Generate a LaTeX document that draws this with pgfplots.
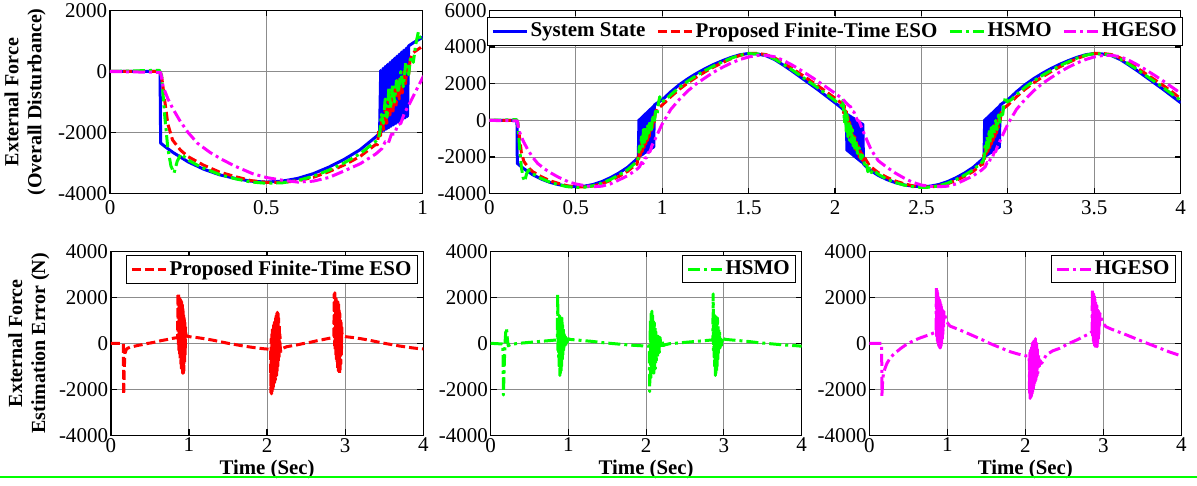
\documentclass[border=0pt]{standalone}
\usepackage{fontspec}
\setmainfont{Liberation Serif}
\usepackage{pgfplots}
\usepackage{pgfplotstable}
\pgfplotsset{compat=1.18}

\definecolor{cBlue}{RGB}{0,0,255}
\definecolor{cRed}{RGB}{255,0,0}
\definecolor{cGreen}{RGB}{0,255,0}
\definecolor{cMag}{RGB}{255,0,255}

\newcommand\tickfont{\fontsize{10.5}{12}\selectfont}
\newcommand\labfont{\bfseries\fontsize{10}{11.5}\selectfont}
\newcommand\legfont{\bfseries\fontsize{10.5}{12}\selectfont}

% ---------------- overall disturbance (system state) ----------------
\pgfplotstableread[row sep=\\]{
t v\\
0 0\\ 0.16 0\\ 0.162 -2345\\ 0.175 -2450\\ 0.2 -2640\\ 0.25 -2960\\ 0.3 -3200\\ 0.35 -3380\\ 0.4 -3500\\ 0.45 -3590\\ 0.5 -3620\\ 0.55 -3590\\ 0.6 -3500\\ 0.65 -3345\\ 0.7 -3130\\ 0.75 -2870\\ 0.8 -2560\\ 0.85 -2140\\
0.862 -2020\\ 0.8657 33\\ 0.8694 -1974\\ 0.8732 100\\ 0.8769 -1929\\ 0.8806 167\\ 0.8843 -1883\\ 0.8880 234\\ 0.8918 -1838\\ 0.8955 301\\ 0.8992 -1792\\ 0.9029 368\\ 0.9066 -1746\\ 0.9104 435\\ 0.9141 -1701\\ 0.9178 502\\ 0.9215 -1655\\ 0.9252 568\\ 0.9290 -1610\\ 0.9327 635\\ 0.9364 -1564\\ 0.9401 702\\ 0.9438 -1518\\ 0.9476 769\\ 0.9513 -1473\\ 0.9550 836\\
0.97 940\\ 1.0 1120\\ 1.05 1560\\ 1.1 1950\\ 1.15 2280\\ 1.2 2570\\ 1.25 2830\\ 1.3 3060\\ 1.35 3260\\ 1.4 3440\\ 1.45 3580\\ 1.5 3650\\ 1.55 3620\\ 1.6 3530\\ 1.65 3320\\ 1.7 3020\\ 1.75 2700\\ 1.8 2360\\ 1.85 2020\\ 1.9 1680\\ 1.95 1320\\ 2.0 960\\ 2.04 660\\
2.065 380\\ 2.069 -1650\\ 2.073 332\\ 2.077 -1711\\ 2.081 284\\ 2.085 -1772\\ 2.089 236\\ 2.093 -1833\\ 2.097 188\\ 2.101 -1894\\ 2.105 140\\ 2.109 -1954\\ 2.113 92\\ 2.117 -2015\\ 2.121 44\\ 2.125 -2076\\ 2.129 -4\\ 2.133 -2137\\ 2.137 -52\\ 2.141 -2198\\ 2.145 -100\\ 2.149 -2258\\ 2.153 -148\\ 2.157 -2319\\ 2.161 -196\\ 2.165 -2380\\
2.2 -2700\\ 2.25 -3000\\ 2.3 -3230\\ 2.35 -3400\\ 2.4 -3520\\ 2.45 -3590\\ 2.5 -3620\\ 2.55 -3590\\ 2.6 -3500\\ 2.65 -3345\\ 2.7 -3130\\ 2.75 -2870\\ 2.8 -2560\\ 2.85 -2140\\
2.862 -2020\\ 2.8657 33\\ 2.8694 -1974\\ 2.8732 100\\ 2.8769 -1929\\ 2.8806 167\\ 2.8843 -1883\\ 2.8880 234\\ 2.8918 -1838\\ 2.8955 301\\ 2.8992 -1792\\ 2.9029 368\\ 2.9066 -1746\\ 2.9104 435\\ 2.9141 -1701\\ 2.9178 502\\ 2.9215 -1655\\ 2.9252 568\\ 2.9290 -1610\\ 2.9327 635\\ 2.9364 -1564\\ 2.9401 702\\ 2.9438 -1518\\ 2.9476 769\\ 2.9513 -1473\\ 2.9550 836\\
2.97 940\\ 3.0 1120\\ 3.05 1560\\ 3.1 1950\\ 3.15 2280\\ 3.2 2570\\ 3.25 2830\\ 3.3 3060\\ 3.35 3260\\ 3.4 3440\\ 3.45 3580\\ 3.5 3650\\ 3.55 3620\\ 3.6 3530\\ 3.65 3320\\ 3.7 3020\\ 3.75 2700\\ 3.8 2360\\ 3.85 2020\\ 3.9 1680\\ 3.95 1320\\ 4.0 960\\
}\tState

% ---------------- proposed finite-time ESO estimate ----------------
\pgfplotstableread[row sep=\\]{
t v\\
0 0\\ 0.16 0\\ 0.165 -150\\ 0.175 -950\\ 0.185 -1720\\ 0.2 -2240\\ 0.225 -2570\\ 0.25 -2790\\ 0.3 -3070\\ 0.35 -3290\\ 0.4 -3440\\ 0.45 -3570\\ 0.5 -3630\\ 0.55 -3630\\ 0.6 -3580\\ 0.65 -3465\\ 0.7 -3280\\ 0.75 -3055\\ 0.8 -2780\\ 0.85 -2386\\
0.855 -2400\\ 0.86 -1900\\ 0.865 -2100\\ 0.87 -1500\\ 0.875 -1900\\ 0.88 -1200\\ 0.885 -1700\\ 0.89 -900\\ 0.895 -1500\\ 0.9 -700\\ 0.905 -1300\\ 0.91 -500\\ 0.915 -1100\\ 0.92 -300\\ 0.925 -900\\ 0.93 -200\\ 0.935 -700\\ 0.94 0\\ 0.945 -400\\ 0.95 200\\ 0.955 -100\\ 0.96 400\\
0.97 620\\ 1.0 830\\ 1.05 1290\\ 1.1 1700\\ 1.15 2055\\ 1.2 2370\\ 1.25 2660\\ 1.3 2920\\ 1.35 3155\\ 1.4 3370\\ 1.45 3545\\ 1.5 3650\\ 1.55 3650\\ 1.6 3590\\ 1.65 3410\\ 1.7 3140\\ 1.75 2845\\ 1.8 2530\\ 1.85 2215\\ 1.9 1895\\ 1.95 1555\\ 2.0 1210\\ 2.04 920\\
2.05 400\\ 2.055 800\\ 2.06 0\\ 2.065 500\\ 2.07 -300\\ 2.075 200\\ 2.08 -600\\ 2.085 -100\\ 2.09 -900\\ 2.095 -400\\ 2.1 -1200\\ 2.105 -700\\ 2.11 -1400\\ 2.115 -900\\ 2.12 -1600\\ 2.125 -1200\\ 2.13 -1800\\ 2.135 -1400\\ 2.14 -2000\\ 2.145 -1600\\ 2.15 -2100\\ 2.155 -1800\\ 2.16 -2200\\ 2.17 -2000\\
2.18 -2170\\ 2.2 -2480\\ 2.25 -2850\\ 2.3 -3110\\ 2.35 -3310\\ 2.4 -3460\\ 2.45 -3570\\ 2.5 -3630\\ 2.55 -3630\\ 2.6 -3580\\ 2.65 -3465\\ 2.7 -3280\\ 2.75 -3055\\ 2.8 -2780\\ 2.85 -2386\\
2.855 -2400\\ 2.86 -1900\\ 2.865 -2100\\ 2.87 -1500\\ 2.875 -1900\\ 2.88 -1200\\ 2.885 -1700\\ 2.89 -900\\ 2.895 -1500\\ 2.9 -700\\ 2.905 -1300\\ 2.91 -500\\ 2.915 -1100\\ 2.92 -300\\ 2.925 -900\\ 2.93 -200\\ 2.935 -700\\ 2.94 0\\ 2.945 -400\\ 2.95 200\\ 2.955 -100\\ 2.96 400\\
2.97 620\\ 3.0 830\\ 3.05 1290\\ 3.1 1700\\ 3.15 2055\\ 3.2 2370\\ 3.25 2660\\ 3.3 2920\\ 3.35 3155\\ 3.4 3370\\ 3.45 3545\\ 3.5 3650\\ 3.55 3650\\ 3.6 3590\\ 3.65 3410\\ 3.7 3140\\ 3.75 2845\\ 3.8 2530\\ 3.85 2215\\ 3.9 1895\\ 3.95 1555\\ 4.0 1180\\
}\tEso

% ---------------- HSMO estimate ----------------
\pgfplotstableread[row sep=\\]{
t v\\
0 0\\ 0.158 40\\ 0.165 -120\\ 0.175 -1450\\ 0.185 -2520\\ 0.195 -3100\\ 0.205 -3320\\ 0.215 -2935\\ 0.227 -2695\\ 0.25 -2900\\ 0.29 -3125\\ 0.35 -3370\\ 0.4 -3510\\ 0.45 -3615\\ 0.5 -3660\\ 0.55 -3645\\ 0.6 -3570\\ 0.65 -3430\\ 0.7 -3230\\ 0.75 -2985\\ 0.8 -2690\\ 0.85 -2285\\
0.858 -2200\\ 0.863 -2000\\ 0.868 -1400\\ 0.874 -1700\\ 0.88 -900\\ 0.886 -1500\\ 0.892 -500\\ 0.898 -1200\\ 0.904 -400\\ 0.91 -1000\\ 0.916 -300\\ 0.922 -700\\ 0.93 0\\ 0.938 -500\\ 0.946 300\\ 0.955 -100\\ 0.962 500\\ 0.97 300\\ 0.978 900\\ 0.986 1290\\ 0.995 1000\\
1.02 1130\\ 1.05 1400\\ 1.1 1805\\ 1.15 2150\\ 1.2 2455\\ 1.25 2730\\ 1.3 2975\\ 1.35 3195\\ 1.4 3395\\ 1.45 3555\\ 1.5 3640\\ 1.55 3625\\ 1.6 3550\\ 1.65 3355\\ 1.7 3070\\ 1.75 2765\\ 1.8 2440\\ 1.85 2110\\ 1.9 1780\\ 1.95 1430\\ 2.0 1075\\ 2.04 790\\
2.046 1100\\ 2.05 500\\ 2.055 -100\\ 2.06 600\\ 2.065 -600\\ 2.07 300\\ 2.075 -900\\ 2.08 0\\ 2.085 -1100\\ 2.09 -300\\ 2.095 -1200\\ 2.1 -500\\ 2.105 -1400\\ 2.11 -800\\ 2.115 -1600\\ 2.12 -1100\\ 2.13 -1800\\ 2.14 -1500\\ 2.15 -2100\\ 2.16 -1900\\ 2.17 -2400\\ 2.18 -2300\\ 2.19 -2800\\ 2.2 -2600\\ 2.21 -2850\\ 2.22 -2700\\
2.25 -2940\\ 2.3 -3210\\ 2.35 -3390\\ 2.4 -3530\\ 2.45 -3615\\ 2.5 -3660\\ 2.55 -3645\\ 2.6 -3570\\ 2.65 -3430\\ 2.7 -3230\\ 2.75 -2985\\ 2.8 -2690\\ 2.85 -2285\\
2.858 -2200\\ 2.863 -2000\\ 2.868 -1400\\ 2.874 -1700\\ 2.88 -900\\ 2.886 -1500\\ 2.892 -500\\ 2.898 -1200\\ 2.904 -400\\ 2.91 -1000\\ 2.916 -300\\ 2.922 -700\\ 2.93 0\\ 2.938 -500\\ 2.946 300\\ 2.955 -100\\ 2.962 500\\ 2.97 300\\ 2.978 900\\ 2.986 1290\\ 2.995 1000\\
3.02 1130\\ 3.05 1400\\ 3.1 1805\\ 3.15 2150\\ 3.2 2455\\ 3.25 2730\\ 3.3 2975\\ 3.35 3195\\ 3.4 3395\\ 3.45 3555\\ 3.5 3640\\ 3.55 3625\\ 3.6 3550\\ 3.65 3355\\ 3.7 3070\\ 3.75 2765\\ 3.8 2440\\ 3.85 2110\\ 3.9 1780\\ 3.95 1430\\ 4.0 1090\\
}\tHsmo

% ---------------- HGESO estimate ----------------
\pgfplotstableread[row sep=\\]{
t v\\
0 0\\ 0.162 -30\\ 0.17 -500\\ 0.185 -890\\ 0.2 -1200\\ 0.224 -1620\\ 0.25 -2000\\ 0.28 -2350\\ 0.32 -2650\\ 0.36 -2890\\ 0.4 -3100\\ 0.456 -3345\\ 0.5 -3470\\ 0.552 -3560\\ 0.6 -3620\\ 0.65 -3590\\ 0.7 -3470\\ 0.75 -3250\\ 0.8 -3020\\ 0.85 -2700\\ 0.87 -2520\\ 0.88 -2300\\ 0.89 -2350\\ 0.9 -2050\\ 0.91 -2050\\ 0.92 -1750\\ 0.93 -1700\\ 0.94 -1400\\ 0.957 -1070\\ 0.98 -600\\
1.0 -200\\ 1.05 600\\ 1.1 1150\\ 1.15 1620\\ 1.2 2010\\ 1.25 2330\\ 1.3 2640\\ 1.35 2900\\ 1.4 3130\\ 1.45 3320\\ 1.5 3460\\ 1.55 3540\\ 1.6 3550\\ 1.65 3470\\ 1.7 3280\\ 1.75 3030\\ 1.8 2750\\ 1.85 2450\\ 1.9 2140\\ 1.95 1810\\ 2.0 1480\\ 2.04 1200\\
2.08 800\\ 2.09 750\\ 2.1 500\\ 2.11 450\\ 2.12 200\\ 2.13 0\\ 2.14 -50\\ 2.16 -530\\ 2.19 -1200\\ 2.21 -1620\\ 2.25 -2200\\ 2.3 -2560\\ 2.35 -2880\\ 2.4 -3150\\ 2.45 -3380\\ 2.5 -3530\\ 2.55 -3600\\ 2.6 -3620\\ 2.65 -3590\\ 2.7 -3470\\ 2.75 -3250\\ 2.8 -3020\\ 2.85 -2700\\ 2.87 -2520\\ 2.88 -2300\\ 2.89 -2350\\ 2.9 -2050\\ 2.91 -2050\\ 2.92 -1750\\ 2.93 -1700\\ 2.94 -1400\\ 2.957 -1070\\ 2.98 -600\\
3.0 -200\\ 3.05 600\\ 3.1 1150\\ 3.15 1620\\ 3.2 2010\\ 3.25 2330\\ 3.3 2640\\ 3.35 2900\\ 3.4 3130\\ 3.45 3320\\ 3.5 3460\\ 3.55 3540\\ 3.6 3550\\ 3.65 3470\\ 3.7 3280\\ 3.75 3030\\ 3.8 2750\\ 3.85 2450\\ 3.9 2140\\ 3.95 1810\\ 4.0 1480\\
}\tHgeso

% ---------------- estimation errors ----------------
\pgfplotstableread[row sep=\\]{
t v\\
0 0\\ 0.16 0\\ 0.165 -2220\\ 0.172 -1200\\ 0.18 -450\\ 0.2 -250\\ 0.225 -200\\ 0.25 -170\\ 0.3 -130\\ 0.35 -90\\ 0.4 -60\\ 0.45 -20\\ 0.5 10\\ 0.55 40\\ 0.6 80\\ 0.65 120\\ 0.7 150\\ 0.75 185\\ 0.8 220\\ 0.85 246\\
0.855 300\\ 0.86 2150\\ 0.864 -100\\ 0.868 2200\\ 0.872 -300\\ 0.876 2000\\ 0.88 -500\\ 0.884 1950\\ 0.888 -700\\ 0.892 1900\\ 0.896 -900\\ 0.9 1850\\ 0.904 -1100\\ 0.908 1800\\ 0.912 -1200\\ 0.916 1700\\ 0.92 -1300\\ 0.924 1500\\ 0.928 -1300\\ 0.932 1300\\ 0.936 -1200\\ 0.94 1100\\ 0.944 -900\\ 0.948 900\\ 0.952 -500\\ 0.956 700\\ 0.96 400\\
0.97 320\\ 1.0 290\\ 1.05 270\\ 1.1 250\\ 1.15 225\\ 1.2 200\\ 1.25 170\\ 1.3 140\\ 1.35 105\\ 1.4 70\\ 1.45 35\\ 1.5 0\\ 1.55 -30\\ 1.6 -60\\ 1.65 -90\\ 1.7 -120\\ 1.75 -145\\ 1.8 -170\\ 1.85 -195\\ 1.9 -215\\ 1.95 -235\\ 2.0 -250\\ 2.04 -260\\
2.045 -250\\ 2.049 -2150\\ 2.053 200\\ 2.057 -2200\\ 2.061 400\\ 2.065 -2100\\ 2.069 600\\ 2.073 -2000\\ 2.077 700\\ 2.081 -1900\\ 2.085 800\\ 2.089 -1800\\ 2.093 900\\ 2.097 -1700\\ 2.101 1000\\ 2.105 -1600\\ 2.109 1100\\ 2.113 -1500\\ 2.117 1200\\ 2.121 -1400\\ 2.125 1300\\ 2.129 -1200\\ 2.133 1350\\ 2.137 -1000\\ 2.141 1300\\ 2.145 -800\\ 2.149 1100\\ 2.153 -600\\ 2.157 800\\ 2.161 -400\\ 2.165 400\\ 2.17 -300\\
2.18 -350\\ 2.2 -220\\ 2.25 -150\\ 2.3 -120\\ 2.35 -90\\ 2.4 -60\\ 2.45 -20\\ 2.5 10\\ 2.55 40\\ 2.6 80\\ 2.65 120\\ 2.7 150\\ 2.75 185\\ 2.8 220\\ 2.85 246\\
2.855 300\\ 2.86 2150\\ 2.864 -100\\ 2.868 2200\\ 2.872 -300\\ 2.876 2000\\ 2.88 -500\\ 2.884 1950\\ 2.888 -700\\ 2.892 1900\\ 2.896 -900\\ 2.9 1850\\ 2.904 -1100\\ 2.908 1800\\ 2.912 -1200\\ 2.916 1700\\ 2.92 -1300\\ 2.924 1500\\ 2.928 -1300\\ 2.932 1300\\ 2.936 -1200\\ 2.94 1100\\ 2.944 -900\\ 2.948 900\\ 2.952 -500\\ 2.956 700\\ 2.96 400\\
2.97 320\\ 3.0 290\\ 3.05 270\\ 3.1 250\\ 3.15 225\\ 3.2 200\\ 3.25 170\\ 3.3 140\\ 3.35 105\\ 3.4 70\\ 3.45 35\\ 3.5 0\\ 3.55 -30\\ 3.6 -60\\ 3.65 -90\\ 3.7 -120\\ 3.75 -145\\ 3.8 -170\\ 3.85 -195\\ 3.9 -215\\ 3.95 -235\\ 4.0 -245\\
}\tEsoErr

\pgfplotstableread[row sep=\\]{
t v\\
0 0\\ 0.15 -30\\ 0.158 -40\\ 0.165 -2250\\ 0.175 -1000\\ 0.185 0\\ 0.195 500\\ 0.205 650\\ 0.215 200\\ 0.227 -115\\ 0.25 -60\\ 0.29 -30\\ 0.35 -10\\ 0.4 10\\ 0.45 25\\ 0.5 40\\ 0.55 55\\ 0.6 70\\ 0.65 85\\ 0.7 100\\ 0.75 115\\ 0.8 130\\ 0.85 145\\
0.858 200\\ 0.863 2150\\ 0.866 -300\\ 0.87 900\\ 0.874 -600\\ 0.878 1100\\ 0.882 -1000\\ 0.886 1200\\ 0.89 -1400\\ 0.894 1200\\ 0.898 -1300\\ 0.902 1150\\ 0.906 -1200\\ 0.91 1000\\ 0.914 -1000\\ 0.918 1100\\ 0.922 -700\\ 0.926 800\\ 0.93 -500\\ 0.935 600\\ 0.94 -300\\ 0.946 500\\ 0.952 -200\\ 0.96 300\\ 0.968 -100\\ 0.976 250\\ 0.985 50\\ 0.995 200\\
1.02 170\\ 1.05 160\\ 1.1 145\\ 1.15 130\\ 1.2 115\\ 1.25 100\\ 1.3 85\\ 1.35 65\\ 1.4 45\\ 1.45 25\\ 1.5 10\\ 1.55 -5\\ 1.6 -20\\ 1.65 -35\\ 1.7 -50\\ 1.75 -65\\ 1.8 -80\\ 1.85 -90\\ 1.9 -100\\ 1.95 -110\\ 2.0 -115\\ 2.04 -130\\
2.046 -2100\\ 2.05 -300\\ 2.055 1000\\ 2.06 -1500\\ 2.065 1300\\ 2.07 -1300\\ 2.075 1400\\ 2.08 -1200\\ 2.085 1200\\ 2.09 -1100\\ 2.095 1000\\ 2.1 -1300\\ 2.105 900\\ 2.11 -1000\\ 2.115 700\\ 2.12 -1100\\ 2.125 500\\ 2.13 -800\\ 2.14 400\\ 2.15 -600\\ 2.16 300\\ 2.17 -400\\ 2.18 250\\ 2.19 -200\\ 2.2 150\\ 2.22 -100\\
2.25 -60\\ 2.3 -20\\ 2.35 -10\\ 2.4 10\\ 2.45 25\\ 2.5 40\\ 2.55 55\\ 2.6 70\\ 2.65 85\\ 2.7 100\\ 2.75 115\\ 2.8 130\\ 2.85 145\\
2.858 200\\ 2.863 2150\\ 2.866 -300\\ 2.87 900\\ 2.874 -600\\ 2.878 1100\\ 2.882 -1000\\ 2.886 1200\\ 2.89 -1400\\ 2.894 1200\\ 2.898 -1300\\ 2.902 1150\\ 2.906 -1200\\ 2.91 1000\\ 2.914 -1000\\ 2.918 1100\\ 2.922 -700\\ 2.926 800\\ 2.93 -500\\ 2.935 600\\ 2.94 -300\\ 2.946 500\\ 2.952 -200\\ 2.96 300\\ 2.968 -100\\ 2.976 250\\ 2.985 50\\ 2.995 200\\
3.02 170\\ 3.05 160\\ 3.1 145\\ 3.15 130\\ 3.2 115\\ 3.25 100\\ 3.3 85\\ 3.35 65\\ 3.4 45\\ 3.45 25\\ 3.5 10\\ 3.55 -5\\ 3.6 -20\\ 3.65 -35\\ 3.7 -50\\ 3.75 -65\\ 3.8 -80\\ 3.85 -90\\ 3.9 -100\\ 3.95 -110\\ 4.0 -130\\
}\tHsmoErr

\pgfplotstableread[row sep=\\]{
t v\\
0 0\\ 0.158 0\\ 0.162 -2320\\ 0.17 -1700\\ 0.18 -1350\\ 0.2 -1100\\ 0.225 -880\\ 0.265 -650\\ 0.3 -520\\ 0.35 -370\\ 0.4 -230\\ 0.45 -110\\ 0.5 0\\ 0.55 80\\ 0.6 160\\ 0.65 230\\ 0.7 290\\ 0.75 350\\ 0.8 410\\ 0.85 490\\
0.855 500\\ 0.86 2450\\ 0.864 300\\ 0.868 2300\\ 0.872 100\\ 0.876 2200\\ 0.88 0\\ 0.884 2100\\ 0.888 -100\\ 0.892 2000\\ 0.896 -150\\ 0.9 1900\\ 0.904 -200\\ 0.908 1800\\ 0.912 -200\\ 0.916 1700\\ 0.92 -150\\ 0.924 1600\\ 0.928 0\\ 0.932 1500\\ 0.936 200\\ 0.94 1400\\ 0.944 400\\ 0.948 1300\\ 0.952 700\\ 0.957 1380\\
0.99 940\\ 1.034 750\\ 1.1 660\\ 1.16 580\\ 1.25 450\\ 1.376 260\\ 1.45 150\\ 1.5 60\\ 1.59 -70\\ 1.7 -220\\ 1.8 -360\\ 1.9 -460\\ 1.995 -540\\ 2.045 -550\\
2.05 -600\\ 2.054 -2200\\ 2.058 -400\\ 2.062 -2400\\ 2.066 -300\\ 2.07 -2350\\ 2.074 -200\\ 2.078 -2300\\ 2.082 -100\\ 2.086 -2200\\ 2.09 0\\ 2.094 -2100\\ 2.098 50\\ 2.102 -2000\\ 2.106 100\\ 2.11 -1900\\ 2.114 150\\ 2.118 -1800\\ 2.122 200\\ 2.126 -1700\\ 2.13 200\\ 2.134 -1600\\ 2.138 100\\ 2.142 -1500\\ 2.146 0\\ 2.15 -1400\\ 2.155 -200\\ 2.16 -1300\\ 2.17 -500\\ 2.18 -1000\\ 2.19 -750\\
2.21 -870\\ 2.27 -500\\ 2.35 -330\\ 2.44 -220\\ 2.55 -20\\ 2.66 145\\ 2.75 300\\ 2.83 435\\ 2.85 490\\
2.855 500\\ 2.86 2350\\ 2.864 300\\ 2.868 2250\\ 2.872 100\\ 2.876 2150\\ 2.88 0\\ 2.884 2050\\ 2.888 -100\\ 2.892 1950\\ 2.896 -150\\ 2.9 1850\\ 2.904 -200\\ 2.908 1750\\ 2.912 -200\\ 2.916 1650\\ 2.92 -150\\ 2.924 1550\\ 2.928 0\\ 2.932 1450\\ 2.936 200\\ 2.94 1400\\ 2.944 400\\ 2.948 1300\\ 2.952 700\\ 2.957 1300\\
2.99 900\\ 3.034 720\\ 3.1 620\\ 3.3 360\\ 3.51 70\\ 3.73 -220\\ 3.85 -380\\ 4.0 -550\\
}\tHgesoErr

\pgfplotsset{
  panel/.style={
    scale only axis,
    axis line style={line width=0.75pt},
    tick align=inside, xtick pos=both, ytick pos=both,
    major tick length=3pt,
    tick style={black, line width=0.6pt},
    grid=major,
    major grid style={black!45, line width=0.45pt},
    tick label style={font=\tickfont},
    /pgf/number format/assume math mode=true,
    /pgf/number format/1000 sep={},
    scaled ticks=false,
    yticklabel style={inner xsep=1.2pt},
    every axis plot/.append style={line join=round},
  },
  stateS/.style={cBlue, line width=1.5pt, solid},
  esoS/.style={cRed, line width=1.5pt, dash pattern=on 4.5pt off 2pt},
  hsmoS/.style={cGreen, line width=1.5pt, dash pattern=on 6pt off 2pt on 1.5pt off 2pt},
  hgesoS/.style={cMag, line width=1.5pt, dash pattern=on 6pt off 2pt on 1.5pt off 2pt},
  boxlegend/.style={
    legend style={draw=black, line width=0.6pt, fill=white, font=\legfont,
      inner xsep=2pt, inner ysep=1.5pt, nodes={inner sep=1pt},
      /tikz/every even column/.append style={column sep=4.5pt}},
    legend cell align=left,
  },
  bottompanel/.style={
    panel, width=156pt, height=92pt,
    xmin=0, xmax=4, ymin=-4000, ymax=4000,
    xtick={0,1,2,3,4}, ytick={-4000,-2000,0,2000,4000},
    xticklabel style={inner ysep=1.2pt},
    xlabel={Time (Sec)},
    xlabel style={at={([yshift=-19.8pt]rel axis cs:0.5,0)}, anchor=base, font=\bfseries\fontsize{10.4}{12}\selectfont, inner sep=0pt},
    boxlegend,
    legend style={at={(1,1)}, anchor=north east, xshift=-2.6pt, yshift=-1.9pt},
  },
}

\begin{document}
\begin{tikzpicture}
\path[use as bounding box] (0,0) rectangle (598.5pt,243pt);

% overall disturbance, first second
\begin{axis}[panel, at={(55pt,146.15pt)}, anchor=south west,
  width=156.35pt, height=91.65pt,
  xmin=0, xmax=1, ymin=-4000, ymax=2000,
  xtick={0,0.5,1}, ytick={-4000,-2000,0,2000},
  ylabel={External Force\\(Overall Disturbance)},
  ylabel style={at={([xshift=-32pt]rel axis cs:0,0.5)}, anchor=south, align=center, font=\labfont, inner sep=0pt},
]
\addplot[stateS] table[x=t,y=v]{\tState};
\addplot[esoS] table[x=t,y=v]{\tEso};
\addplot[hsmoS] table[x=t,y=v]{\tHsmo};
\addplot[hgesoS] table[x=t,y=v]{\tHgeso};
\end{axis}

% overall disturbance, full run
\begin{axis}[panel, at={(244.65pt,146.15pt)}, anchor=south west,
  width=345.7pt, height=91.65pt,
  xmin=0, xmax=4, ymin=-4000, ymax=6000,
  xtick={0,0.5,1,1.5,2,2.5,3,3.5,4}, ytick={-4000,-2000,0,2000,4000,6000},
  boxlegend, legend columns=4,
  legend style={at={(0.5,1)}, anchor=north, yshift=-3.3pt},
]
\addplot[stateS] table[x=t,y=v]{\tState};
\addlegendentry{System State}
\addplot[esoS] table[x=t,y=v]{\tEso};
\addlegendentry{Proposed Finite-Time ESO}
\addplot[hsmoS] table[x=t,y=v]{\tHsmo};
\addlegendentry{HSMO}
\addplot[hgesoS] table[x=t,y=v]{\tHgeso};
\addlegendentry{HGESO}
\end{axis}

% estimation errors
\begin{axis}[bottompanel, at={(55.4pt,25.35pt)}, anchor=south west, width=156.25pt,
  ylabel={External Force\\Estimation Error (N)},
  ylabel style={at={([xshift=-30.5pt]rel axis cs:0,0.5)}, anchor=south, align=center, font=\labfont, inner sep=0pt},
]
\addplot[esoS] table[x=t,y=v]{\tEsoErr};
\addlegendentry{Proposed Finite-Time ESO}
\end{axis}

\begin{axis}[bottompanel, at={(245.3pt,25.35pt)}, anchor=south west, width=155.5pt]
\addplot[hsmoS] table[x=t,y=v]{\tHsmoErr};
\addlegendentry{HSMO}
\end{axis}

\begin{axis}[bottompanel, at={(434.65pt,25.35pt)}, anchor=south west, width=156pt]
\addplot[hgesoS] table[x=t,y=v]{\tHgesoErr};
\addlegendentry{HGESO}
\end{axis}

\draw[cGreen, line width=1.4pt] (0,4.5pt) -- (598.5pt,4.5pt);
\end{tikzpicture}
\end{document}
